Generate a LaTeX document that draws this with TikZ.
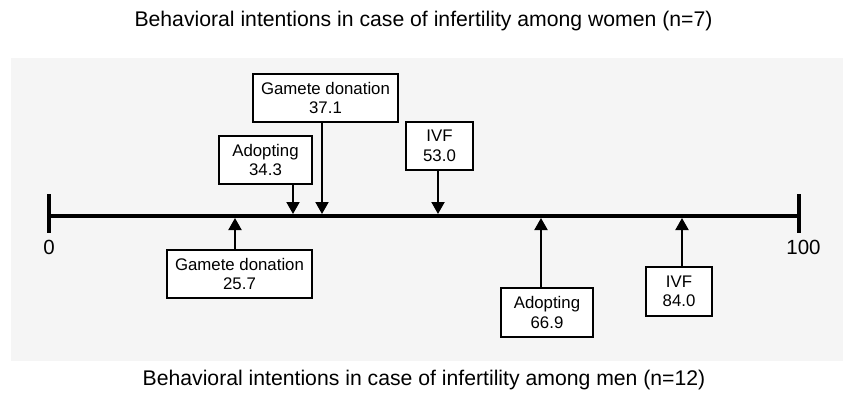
\documentclass[tikz,border=0pt]{standalone}
\usepackage{fontspec}
\setmainfont{Liberation Sans}
\usetikzlibrary{arrows.meta}
\begin{document}
\begin{tikzpicture}[x=1pt,y=-1pt,
  lbl/.style={draw=black,line width=1.5pt,fill=white,inner sep=0pt,align=center,
    font=\fontsize{16.8}{19.5}\selectfont},
  ptr/.style={line width=2pt,-{Triangle[width=13pt,length=12pt]}},
  ttl/.style={font=\fontsize{21.2}{24}\selectfont,anchor=base},
  tk/.style={font=\fontsize{20.5}{22}\selectfont,anchor=base}]
\useasboundingbox (0,0) rectangle (843,394);
\fill[black!4] (11,58) rectangle (843,361);
\node[ttl] (t1) at (423.5,26) {Behavioral intentions in case of infertility among women (n=7)};
\node[ttl] (t2) at (424,385) {Behavioral intentions in case of infertility among men (n=12)};
% axis
\coordinate (a0) at (49,216);
\coordinate (a100) at (799,216);
\draw[line width=4pt] (a0) -- (a100);
\draw[line width=4.5pt] (49,194) -- (49,233);
\draw[line width=4.5pt] (799,194) -- (799,233);
\node[tk] (l0) at (49,254) {0};
\node[tk] (l100) at (803.5,254) {100};
% boxes
\node[lbl,minimum width=145pt,minimum height=48pt] (g37) at (325.5,98) {Gamete donation\\37.1};
\node[lbl,minimum width=93pt,minimum height=48pt] (a34) at (265.5,160) {Adopting\\34.3};
\node[lbl,minimum width=67pt,minimum height=48pt] (i53) at (439.5,146) {IVF\\53.0};
\node[lbl,minimum width=145pt,minimum height=48pt] (g25) at (239.5,274) {Gamete donation\\25.7};
\node[lbl,minimum width=92pt,minimum height=49pt] (a66) at (547,312.5) {Adopting\\66.9};
\node[lbl,minimum width=66pt,minimum height=49pt] (i84) at (679,291.5) {IVF\\84.0};
% points on axis
\coordinate (p37) at (322,214);
\coordinate (p34) at (293,214);
\coordinate (p53) at (438,214);
\coordinate (p25) at (235,218);
\coordinate (p66) at (541,218);
\coordinate (p84) at (682,218);
\draw[ptr] (p37 |- g37.south) -- (p37);
\draw[ptr] (p34 |- a34.south) -- (p34);
\draw[ptr] (p53 |- i53.south) -- (p53);
\draw[ptr] (p25 |- g25.north) -- (p25);
\draw[ptr] (p66 |- a66.north) -- (p66);
\draw[ptr] (p84 |- i84.north) -- (p84);
\end{tikzpicture}
\end{document}
